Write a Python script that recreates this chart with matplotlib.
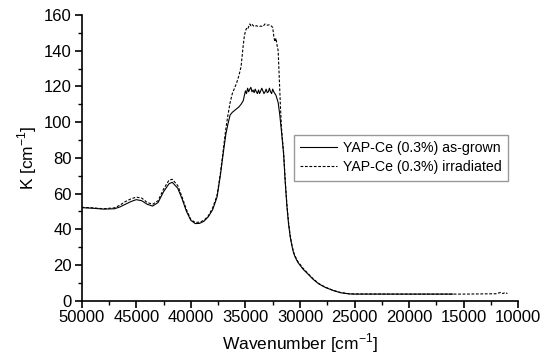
import matplotlib
matplotlib.use("Agg")
import matplotlib.pyplot as plt
from matplotlib.ticker import MultipleLocator

plt.rcParams['font.family'] = ['Liberation Sans', 'DejaVu Sans']

# As-grown sample (wavenumber cm^-1, K cm^-1)
wn_grown = [50000, 49000, 48000, 47000, 46500, 46000, 45500, 45000, 44500, 44000,
            43500, 43000, 42500, 42000, 41700, 41200, 40800, 40400, 40000, 39600,
            39200, 38800, 38400, 38000, 37600, 37300, 37000, 36800, 36600, 36400,
            36200, 36000, 35800, 35600, 35400, 35200, 35000, 34900, 34800, 34700,
            34600, 34500, 34400, 34300, 34200, 34100, 34000, 33900, 33800, 33700,
            33600, 33500, 33400, 33300, 33200, 33100, 33000, 32900, 32800, 32700,
            32600, 32500, 32400, 32300, 32200, 32000, 31850, 31700, 31500, 31350,
            31200, 31050, 30900, 30750, 30600, 30450, 30200, 29700, 29200, 28800,
            28300, 27700, 27000, 26300, 25500, 25000, 20000, 16000]
k_grown = [52.1, 51.8, 51.3, 51.5, 52.5, 54.0, 55.5, 56.6, 56.0, 54.0,
           53.0, 55.0, 61.0, 65.5, 66.3, 63.0, 57.0, 50.0, 45.0, 43.2,
           43.3, 44.5, 47.0, 51.0, 58.0, 70.0, 84.0, 93.0, 99.0, 104.0,
           105.5, 106.5, 107.5, 108.5, 110.0, 112.0, 117.5, 116.0, 119.0, 117.0,
           118.5, 119.5, 117.0, 118.0, 116.5, 118.5, 117.0, 116.0, 118.0, 116.0,
           117.5, 119.0, 117.5, 116.0, 117.0, 118.5, 116.5, 117.0, 119.0, 117.0,
           116.0, 118.5, 117.0, 116.0, 115.0, 111.0, 104.0, 95.0, 82.0, 66.0,
           53.0, 43.0, 36.0, 31.0, 27.0, 24.5, 21.5, 17.5, 14.5, 12.0,
           9.5, 7.5, 5.8, 4.5, 3.8, 3.7, 3.7, 3.7]

# Irradiated sample
wn_irr = [50000, 49000, 48000, 47000, 46500, 46000, 45500, 45000, 44500, 44000,
          43500, 43000, 42500, 42000, 41700, 41200, 40800, 40400, 40000, 39600,
          39200, 38800, 38400, 38000, 37600, 37300, 37000, 36800, 36600, 36400,
          36200, 36000, 35800, 35600, 35400, 35300, 35200, 35100, 35000, 34900,
          34800, 34700, 34600, 34500, 34400, 34200, 34000, 33800, 33600, 33400,
          33200, 33000, 32800, 32600, 32500, 32400, 32300, 32200, 32100, 32000,
          31900, 31800, 31700, 31500, 31350, 31200, 31050, 30900, 30750, 30600,
          30450, 30200, 29700, 29200, 28800, 28300, 27700, 27000, 26300, 25500,
          25000, 20000, 15000, 12000, 11600, 11400, 11200, 11000]
k_irr = [52.3, 52.0, 51.5, 52.0, 53.5, 55.5, 57.0, 58.0, 57.5, 55.0,
         54.0, 56.0, 62.5, 67.5, 68.0, 64.5, 58.0, 51.0, 45.5, 43.8,
         44.0, 45.0, 47.5, 52.0, 59.0, 71.0, 86.0, 96.0, 104.0, 111.0,
         116.0, 119.0, 122.0, 126.0, 131.0, 137.0, 143.0, 148.0, 151.0, 152.5,
         152.0, 153.5, 155.0, 154.0, 154.8, 153.5, 154.0, 153.5, 153.8, 153.5,
         155.0, 154.3, 154.5, 153.7, 153.0, 148.0, 145.0, 147.0, 143.0, 140.0,
         125.0, 110.0, 97.0, 83.0, 67.0, 54.0, 44.0, 36.5, 31.5, 27.5,
         25.0, 22.0, 18.0, 14.8, 12.3, 9.7, 7.6, 5.9, 4.6, 3.9,
         3.8, 3.7, 3.7, 3.9, 4.7, 4.0, 4.6, 4.0]

fig = plt.figure(figsize=(5.5, 3.6), dpi=100)
ax = fig.add_axes([0.1485, 0.1647, 0.7939, 0.7936])

ax.plot(wn_grown, k_grown, color='black', lw=0.8, label='YAP-Ce (0.3%) as-grown')
ax.plot(wn_irr, k_irr, color='black', lw=0.8, linestyle=(0, (2.5, 1.5)),
        label='YAP-Ce (0.3%) irradiated')

ax.set_xlim(50000, 10000)
ax.set_ylim(0, 160)
ax.xaxis.set_major_locator(MultipleLocator(5000))
ax.xaxis.set_minor_locator(MultipleLocator(2500))
ax.yaxis.set_major_locator(MultipleLocator(20))
ax.yaxis.set_minor_locator(MultipleLocator(10))
ax.tick_params(which='major', direction='out', length=5, width=1.2, labelsize=12, pad=2)
ax.tick_params(which='minor', direction='out', length=3, width=1.0)
for s in ['top', 'right']:
    ax.spines[s].set_visible(False)
for s in ['left', 'bottom']:
    ax.spines[s].set_linewidth(1.2)

ax.set_xlabel('Wavenumber [cm$^{\\mathregular{-1}}$]', fontsize=12.5, labelpad=4)
ax.set_ylabel('K [cm$^{\\mathregular{-1}}$]', fontsize=12.5, labelpad=4)

leg = ax.legend(loc='upper left', bbox_to_anchor=(0.486, 0.58), fontsize=10.2,
                frameon=True, fancybox=False, edgecolor='#808080',
                handlelength=2.6, handletextpad=0.4, borderpad=0.45,
                labelspacing=0.35, borderaxespad=0)
leg.get_frame().set_linewidth(1.0)

fig.savefig('out.png', dpi=100)
